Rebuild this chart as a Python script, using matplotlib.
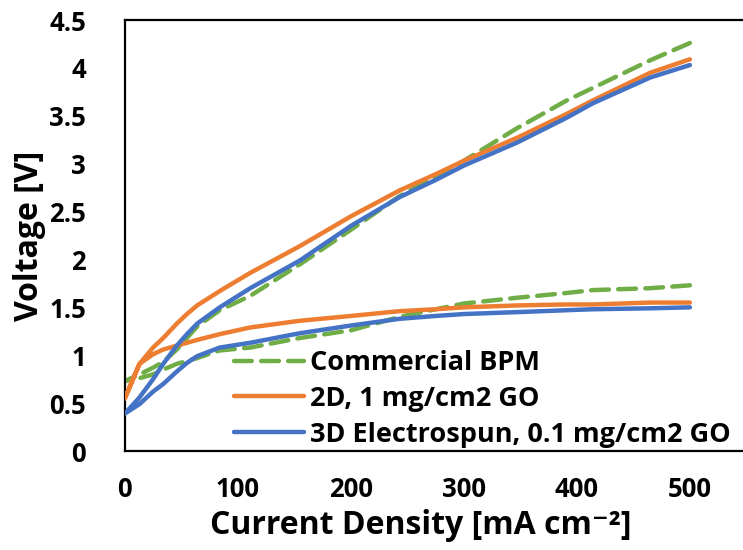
import matplotlib
matplotlib.use("Agg")
import matplotlib.pyplot as plt

plt.rcParams['font.family'] = ['Open Sans', 'DejaVu Sans']
plt.rcParams['font.weight'] = 'bold'

# ----------------------------
# Data
# ----------------------------
x_pts = [0, 13, 25, 34, 46, 55, 64, 84, 111, 155, 200, 243, 275, 300, 347, 391, 414, 465, 500]

# upper (high voltage) branches
comm_up = [0.73, 0.80, 0.87, 0.93, 1.06, 1.18, 1.30, 1.47, 1.62, 1.95, 2.31, 2.66, 2.87, 3.03, 3.37, 3.66, 3.79, 4.08, 4.26]
d2_up = [0.55, 0.91, 1.08, 1.18, 1.33, 1.43, 1.52, 1.67, 1.86, 2.14, 2.45, 2.72, 2.89, 3.03, 3.27, 3.52, 3.66, 3.95, 4.09]
d3_up = [0.39, 0.56, 0.75, 0.91, 1.10, 1.22, 1.33, 1.50, 1.70, 1.99, 2.35, 2.65, 2.83, 2.98, 3.22, 3.48, 3.63, 3.90, 4.03]

# lower (low voltage) branches
comm_low = [0.73, 0.76, 0.80, 0.85, 0.91, 0.94, 0.97, 1.05, 1.08, 1.18, 1.26, 1.40, 1.48, 1.54, 1.60, 1.65, 1.68, 1.70, 1.73]
d2_low = [0.55, 0.91, 1.01, 1.06, 1.10, 1.13, 1.16, 1.22, 1.29, 1.36, 1.41, 1.46, 1.48, 1.50, 1.52, 1.53, 1.53, 1.55, 1.55]
d3_low = [0.39, 0.49, 0.62, 0.70, 0.83, 0.92, 0.99, 1.08, 1.13, 1.23, 1.31, 1.38, 1.41, 1.43, 1.45, 1.47, 1.48, 1.49, 1.50]

labels = ["Commercial BPM", "2D, 1 mg/cm2 GO", "3D Electrospun, 0.1 mg/cm2 GO"]
colors = ["#70AD47", "#ED7D31", "#4472C4"]

x_ticks = [0, 100, 200, 300, 400, 500]
y_ticks = [0, 0.5, 1, 1.5, 2, 2.5, 3, 3.5, 4, 4.5]
y_tick_labels = ["0", "0.5", "1", "1.5", "2", "2.5", "3", "3.5", "4", "4.5"]

# ----------------------------
# Plot
# ----------------------------
fig = plt.figure(figsize=(7.43, 5.5), dpi=100)
ax = fig.add_axes([0.168, 0.18, 0.832, 0.7836])

# one path per sample: upper branch 500 -> 0, then lower branch 0 -> 500
loop_x = x_pts[::-1] + x_pts
series = [(comm_up, comm_low), (d2_up, d2_low), (d3_up, d3_low)]
for (up, low), lab, col in zip(series, labels, colors):
    loop_y = up[::-1] + low
    if lab == "Commercial BPM":
        ax.plot(loop_x, loop_y, color=col, lw=3.2, linestyle=(0, (4.0, 2.1)),
                dash_capstyle='round', label=lab, zorder=2)
    else:
        ax.plot(loop_x, loop_y, color=col, lw=3.2, solid_capstyle='round',
                label=lab, zorder=3)

ax.set_xlim(0, 547)
ax.set_ylim(0, 4.5)
ax.set_xticks(x_ticks)
ax.set_yticks(y_ticks)
ax.set_yticklabels(y_tick_labels)
ax.tick_params(axis='both', length=0, labelsize=18.5)
ax.tick_params(axis='y', pad=28)
ax.tick_params(axis='x', pad=18)
for lbl in ax.get_xticklabels() + ax.get_yticklabels():
    lbl.set_fontweight('bold')

for side in ['left', 'top', 'bottom']:
    ax.spines[side].set_linewidth(1.6)
ax.spines['right'].set_visible(False)

ax.set_xlabel("Current Density [mA cm⁻²]", fontsize=23, fontweight='bold', labelpad=5)
ax.xaxis.set_label_coords((421 - 125) / 618, -0.135)
ax.set_ylabel("Voltage [V]", fontsize=23, fontweight='bold', labelpad=2)

ax.legend(loc='lower left', bbox_to_anchor=(0.15, -0.03), frameon=False,
          handlelength=2.6, handletextpad=0.2, labelspacing=0.36,
          borderaxespad=0.2, prop={'weight': 'bold', 'size': 19.5})

fig.savefig("out.png", dpi=100)
